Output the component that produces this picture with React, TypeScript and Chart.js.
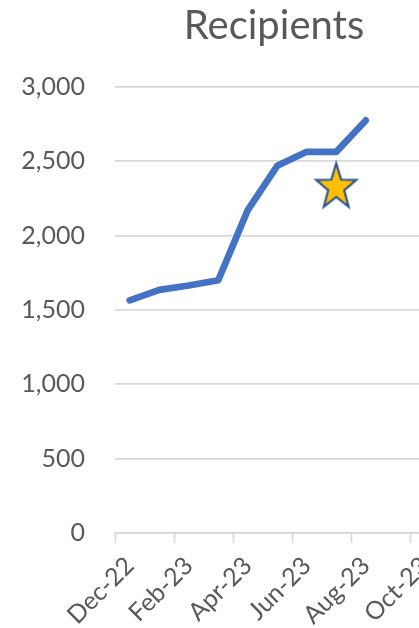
import React, { useEffect, useRef } from "react";
import { Chart, registerables } from "chart.js";

Chart.register(...registerables);

const months = [
  "Dec-22", "Jan-23", "Feb-23", "Mar-23", "Apr-23", "May-23", "Jun-23",
  "Jul-23", "Aug-23", "Sep-23", "Oct-23", "Nov-23", "Dec-23",
];
const recipients = [1565, 1635, 1665, 1700, 2172, 2470, 2564, 2564, 2775, null, null, null, null];
const starValues = [null, null, null, null, null, null, null, 2325, null, null, null, null, null];
const yTicks = [0, 500, 1000, 1500, 2000, 2500, 3000];

const GRID = "#d9d9d9";
const TEXT = "#595959";

function makeStar(): HTMLCanvasElement {
  const c = document.createElement("canvas");
  c.width = 60;
  c.height = 60;
  const g = c.getContext("2d")!;
  const cx = 30, cy = 30;
  const rx = 21.1, ry = 24;
  const inner = 0.4;
  g.beginPath();
  for (let i = 0; i < 10; i++) {
    const a = -Math.PI / 2 + (i * Math.PI) / 5;
    const f = i % 2 === 0 ? 1 : inner;
    const x = cx + Math.cos(a) * rx * f;
    const y = cy + Math.sin(a) * ry * f;
    if (i === 0) g.moveTo(x, y);
    else g.lineTo(x, y);
  }
  g.closePath();
  g.fillStyle = "#FFC000";
  g.fill();
  g.lineJoin = "miter";
  g.lineWidth = 2.2;
  g.strokeStyle = "#2F5597";
  g.stroke();
  return c;
}

export default function App() {
  const ref = useRef<HTMLCanvasElement>(null);
  useEffect(() => {
    if (!ref.current) return;
    const star = makeStar();
    const chart = new Chart(ref.current, {
      type: "line",
      data: {
        labels: months,
        datasets: [
          {
            data: recipients,
            borderColor: "#4472C4",
            borderWidth: 6.75,
            borderCapStyle: "round",
            borderJoinStyle: "round",
            pointRadius: 0,
            tension: 0,
            spanGaps: false,
          },
          {
            data: starValues,
            showLine: false,
            pointStyle: star as any,
            pointRadius: 25,
            borderWidth: 0,
          },
        ],
      },
      options: {
        animation: false,
        responsive: false,
        devicePixelRatio: 1,
        layout: { padding: { top: 0, right: 0, bottom: 0, left: 0 } },
        plugins: {
          legend: { display: false },
          tooltip: { enabled: false },
          title: {
            display: true,
            text: "Recipients",
            color: TEXT,
            font: { family: "Lato", size: 40, weight: "normal" },
            padding: { top: 2, bottom: 37 },
          },
        },
        scales: {
          x: {
            type: "category",
            offset: true,
            grid: {
              offset: true,
              drawOnChartArea: false,
              drawTicks: true,
              tickLength: 10,
              tickWidth: 1.7,
              tickColor: (ctx: any) => (ctx.index % 2 === 0 ? GRID : "rgba(0,0,0,0)"),
            },
            border: { display: true, color: GRID, width: 1.7 },
            ticks: {
              autoSkip: false,
              maxRotation: 45,
              minRotation: 45,
              padding: 8,
              labelOffset: 0,
              color: TEXT,
              font: { family: "Lato", size: 25 },
              callback: (_v: any, i: number) => (i % 2 === 0 ? months[i] : ""),
            },
            afterFit: (s: any) => {
              s.height = 95;
              s.paddingRight = 49.5;
            },
          },
          y: {
            min: yTicks[0],
            max: yTicks[yTicks.length - 1],
            grid: { color: GRID, lineWidth: 1.7, drawTicks: false },
            border: { display: false },
            ticks: {
              stepSize: 500,
              padding: 30,
              color: TEXT,
              font: { family: "Lato", size: 25 },
              callback: (v: any) => Number(v).toLocaleString("en-US"),
            },
            afterBuildTicks: (s: any) => {
              s.ticks = yTicks.map((v) => ({ value: v }));
            },
            afterFit: (s: any) => {
              s.width = 115;
            },
          },
        },
      },
    });
    return () => chart.destroy();
  }, []);
  return (
    <div
      style={{
        position: "fixed",
        left: 0,
        top: 0,
        width: 419,
        height: 628,
        overflow: "hidden",
        background: "#fff",
      }}
    >
      <canvas ref={ref} width={548} height={628} style={{ display: "block" }} />
    </div>
  );
}
